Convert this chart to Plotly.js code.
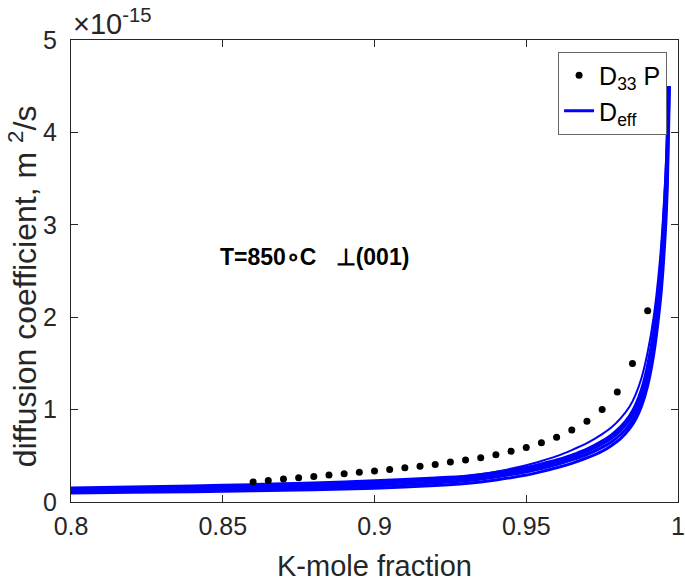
<!DOCTYPE html>
<html>
<head>
<meta charset="utf-8">
<script src="https://cdn.plot.ly/plotly-3.0.1.min.js"></script>
<style>html,body{margin:0;padding:0;background:#fff;}#chart{width:685px;height:582px;}</style>
</head>
<body>
<div id="chart"></div>
<script>
// D33 P measured points (x = K-mole fraction, y in units of 1e-15 m^2/s)
const dotX = [0.860,0.865,0.870,0.875,0.880,0.885,0.890,0.895,0.900,0.905,0.910,0.915,0.920,0.925,0.930,0.935,0.940,0.945,0.950,0.955,0.960,0.965,0.970,0.975,0.980,0.985,0.990];
const dotY = [0.216,0.234,0.248,0.263,0.277,0.291,0.307,0.321,0.335,0.353,0.372,0.386,0.407,0.432,0.455,0.480,0.512,0.549,0.589,0.641,0.700,0.779,0.873,1.000,1.190,1.500,2.070];

// D_eff curves: shared x grid, then each curve's end point
const curveX = [0.80,0.82,0.84,0.86,0.88,0.90,0.92,0.93,0.94,0.95,0.955,0.96,0.965,0.97,0.975,0.978,0.981,0.984,0.986,0.988,0.99,0.992,0.994,0.995,0.996,0.9965];
const deff1 = [0.098,0.105,0.112,0.121,0.133,0.148,0.178,0.201,0.239,0.292,0.329,0.370,0.418,0.477,0.549,0.610,0.683,0.791,0.892,1.040,1.260,1.600,2.120,2.492,3.023,3.441];
const deff2 = [0.115,0.123,0.132,0.143,0.156,0.175,0.206,0.230,0.271,0.326,0.363,0.405,0.456,0.514,0.592,0.650,0.728,0.834,0.941,1.096,1.329,1.668,2.212,2.600,3.153,3.589];
const deff3 = [0.133,0.142,0.153,0.164,0.180,0.201,0.233,0.255,0.296,0.350,0.389,0.433,0.484,0.546,0.628,0.690,0.773,0.886,0.999,1.164,1.411,1.772,2.348,2.760,3.348,3.811];
const deff4 = [0.151,0.162,0.174,0.188,0.206,0.230,0.260,0.279,0.319,0.374,0.412,0.454,0.508,0.572,0.659,0.724,0.810,0.929,1.048,1.220,1.480,1.858,2.462,2.894,3.510,3.996];
const deff5 = [0.140,0.150,0.161,0.174,0.190,0.213,0.249,0.280,0.328,0.398,0.444,0.496,0.562,0.636,0.734,0.806,0.902,1.030,1.160,1.345,1.620,2.005,2.600,3.040,3.640,4.130];
const endX = [0.9972,0.99705,0.9969,0.9968,0.9967];
const endY = [4.5,4.5,4.5,4.5,4.5];

const xTicks = [0.8,0.85,0.9,0.95,1];
const xTickText = ['0.8','0.85','0.9','0.95','1'];
const yTicks = [0,1,2,3,4,5];
const yTickText = ['0','1','2','3','4','5'];

const FONT = 'Liberation Sans, Arial, Helvetica, sans-serif';
const curves = [deff1, deff2, deff3, deff4, deff5];
const widths = [3,3,3,3,2];
const traces = [];
curves.forEach((c, i) => {
  traces.push({
    x: curveX.concat([endX[i]]),
    y: c.concat([endY[i]]),
    type: 'scatter', mode: 'lines',
    line: {color: '#0000ff', width: widths[i], shape: 'spline', smoothing: 0.6},
    name: 'D<sub>eff</sub>',
    showlegend: i === 0,
    legendrank: 2,
    hoverinfo: 'skip'
  });
});
traces.push({
  x: dotX, y: dotY, type: 'scatter', mode: 'markers',
  marker: {color: '#000000', size: 7},
  name: 'D<sub>33</sub> P',
  legendrank: 1
});

const axisCommon = {
  showgrid: false, zeroline: false,
  showline: true, linecolor: '#262626', linewidth: 1,
  mirror: 'ticks', ticks: 'inside', ticklen: 7, tickcolor: '#262626',
  tickfont: {family: FONT, size: 25, color: '#262626'}
};

const layout = {
  width: 685, height: 582,
  margin: {l: 71, r: 7, t: 40, b: 80},
  paper_bgcolor: '#fff', plot_bgcolor: '#fff',
  font: {family: FONT, color: '#262626'},
  xaxis: Object.assign({}, axisCommon, {
    range: [0.8, 1], tickvals: xTicks, ticktext: xTickText,
    ticklabelstandoff: 2,
    title: {text: 'K-mole fraction', font: {family: FONT, size: 29, color: '#262626'}, standoff: 18}
  }),
  yaxis: Object.assign({}, axisCommon, {
    range: [0, 5], tickvals: yTicks, ticktext: yTickText,
    ticklabelstandoff: 8
  }),
  legend: {
    x: 0.982, y: 0.975, xanchor: 'right', yanchor: 'top',
    bgcolor: '#ffffff', bordercolor: '#666666', borderwidth: 1,
    font: {family: FONT, size: 25, color: '#000'},
    tracegroupgap: 0
  },
  showlegend: true,
  annotations: [
    {xref: 'paper', yref: 'paper', x: -0.079, y: 0.467, xanchor: 'center', yanchor: 'middle',
     text: 'diffusion coefficient, m <sup>2</sup>/s', textangle: -90, showarrow: false,
     font: {family: FONT, size: 32, color: '#262626'}},
    {xref: 'paper', yref: 'paper', x: 0.0, y: 1.0, xanchor: 'left', yanchor: 'bottom',
     text: '×10<sup>-15</sup>', showarrow: false, yshift: -2,
     font: {family: FONT, size: 29, color: '#262626'}},
    {xref: 'paper', yref: 'paper', x: 0.401, y: 0.530, xanchor: 'center', yanchor: 'middle',
     text: '<b>T=850∘C   ⊥(001)</b>', showarrow: false,
     font: {family: FONT, size: 23, color: '#000'}}
  ]
};

Plotly.newPlot('chart', traces, layout, {displayModeBar: false, staticPlot: true});
</script>
</body>
</html>
